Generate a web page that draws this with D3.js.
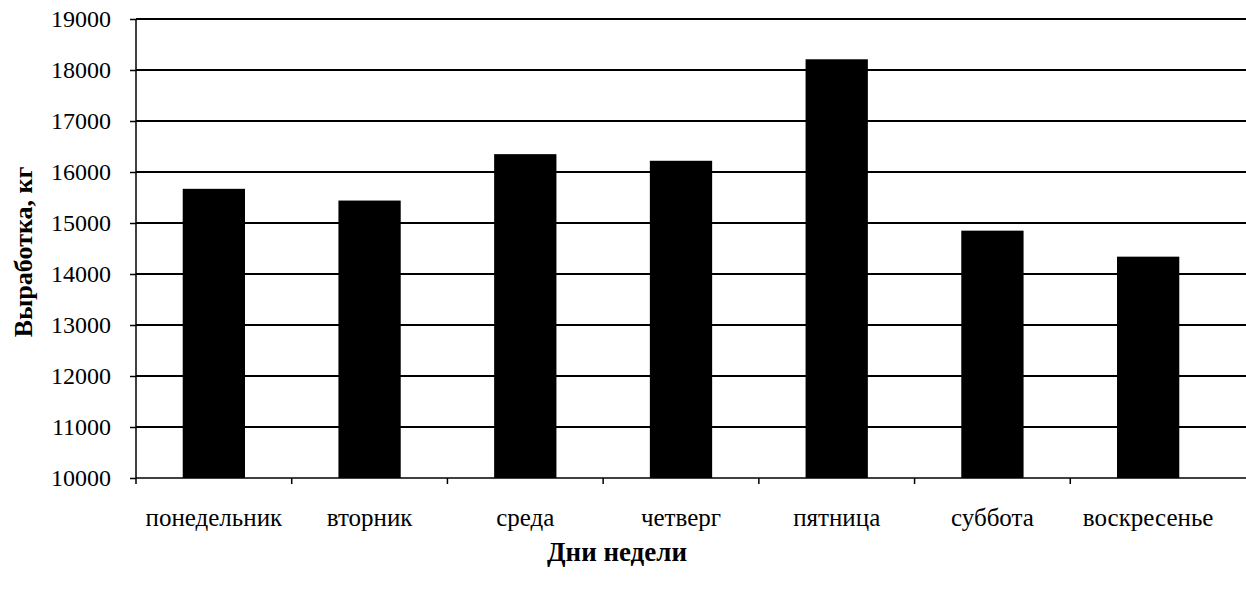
<!DOCTYPE html>
<html lang="ru">
  <head>
    <meta charset="UTF-8" />
    <title>Выработка по дням недели</title>
    <style>
      body { margin: 0; background: #fff; }
      svg text { font-family: "Liberation Serif", "DejaVu Serif", serif; }
      .grid line { stroke: #000; stroke-width: 2px; }
      .axis path, .axis line { stroke: #000; stroke-width: 1.5px; }
      .yaxis text { font-size: 24px; }
    </style>
  </head>
  <body>
    <script src="https://cdn.jsdelivr.net/npm/d3@7/dist/d3.min.js"></script>
    <script>
      // data
      var days = ["понедельник", "вторник", "среда", "четверг", "пятница", "суббота", "воскресенье"];
      var output = [15670, 15440, 16350, 16220, 18210, 14850, 14340];
      var yTicks = [10000, 11000, 12000, 13000, 14000, 15000, 16000, 17000, 18000, 19000];

      var w = 1246, h = 591;
      var margin = { top: 19, right: 20, bottom: 113, left: 136 };

      var svg = d3.select("body").append("svg")
                  .attr("width", w)
                  .attr("height", h);

      var x = d3.scaleBand()
                .domain(days)
                .range([margin.left, w - margin.right])
                .paddingInner(0.6)
                .paddingOuter(0.3);

      var y = d3.scaleLinear()
                .domain([10000, 19000])
                .range([h - margin.bottom, margin.top]);

      // horizontal grid lines
      svg.append("g")
         .attr("class", "grid")
         .selectAll("line")
         .data(yTicks.slice(1))
         .enter()
         .append("line")
         .attr("x1", margin.left)
         .attr("x2", w)
         .attr("y1", function(d) { return y(d); })
         .attr("y2", function(d) { return y(d); });

      // bars
      svg.selectAll("rect.bar")
         .data(days)
         .enter()
         .append("rect")
         .attr("class", "bar")
         .attr("x", function(d) { return x(d); })
         .attr("width", x.bandwidth())
         .attr("y", function(d, i) { return y(output[i]); })
         .attr("height", function(d, i) { return y(10000) - y(output[i]); })
         .attr("fill", "#000");

      // y axis
      var yAxis = d3.axisLeft(y)
                    .tickValues(yTicks)
                    .tickSize(6)
                    .tickPadding(19)
                    .tickFormat(d3.format("d"));
      var yG = svg.append("g")
         .attr("class", "axis yaxis")
         .attr("transform", "translate(" + margin.left + ",0)")
         .call(yAxis);
      yG.attr("font-family", null).attr("font-size", null);
      yG.select(".domain").attr("d", "M0," + y(19000) + "V" + y(10000));
      yG.selectAll("text").attr("fill", "#000");

      // x axis: ticks sit between the categories
      var step = x.step();
      var xAxisG = svg.append("g")
         .attr("class", "axis xaxis")
         .attr("transform", "translate(0," + y(10000) + ")");
      xAxisG.append("path")
         .attr("d", "M" + margin.left + ",0H" + w);
      xAxisG.selectAll("line")
         .data(days)
         .enter()
         .append("line")
         .attr("x1", function(d) { return x(d) - (step - x.bandwidth()) / 2; })
         .attr("x2", function(d) { return x(d) - (step - x.bandwidth()) / 2; })
         .attr("y1", 0)
         .attr("y2", 6);
      xAxisG.selectAll("text")
         .data(days)
         .enter()
         .append("text")
         .attr("x", function(d) { return x(d) + x.bandwidth() / 2; })
         .attr("y", 48)
         .attr("text-anchor", "middle")
         .style("font-size", "25px")
         .text(function(d) { return d; });

      // axis titles
      svg.append("text")
         .attr("x", 617)
         .attr("y", 561)
         .attr("text-anchor", "middle")
         .style("font-size", "27px")
         .style("font-weight", "bold")
         .text("Дни недели");

      svg.append("text")
         .attr("transform", "translate(32,252) rotate(-90)")
         .attr("text-anchor", "middle")
         .style("font-size", "26px")
         .style("font-weight", "bold")
         .text("Выработка,  кг");
    </script>
  </body>
</html>
